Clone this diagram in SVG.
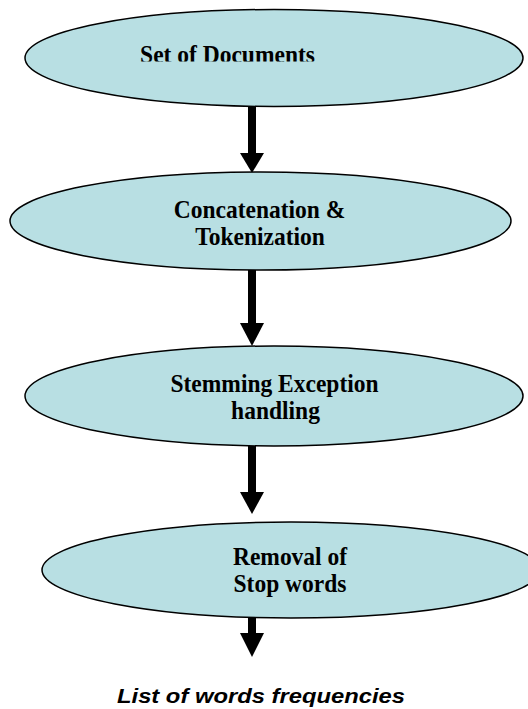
<svg xmlns="http://www.w3.org/2000/svg" width="528" height="709" viewBox="0 0 528 709">
<style>
.node{fill:#B8DFE3;stroke:#000;stroke-width:1.5}
.lbl{font-family:"Liberation Serif","Times New Roman",serif;font-weight:bold;font-size:23.5px;fill:#000;text-anchor:middle}
.out{font-family:"Liberation Sans",Arial,sans-serif;font-weight:bold;font-style:italic;font-size:20px;fill:#000}
.shaft{stroke:#000;stroke-width:8;fill:none}
.head{fill:#000}
</style>
<defs>
<clipPath id="clip1"><rect x="-200" y="-30" width="400" height="28.5"/></clipPath>
</defs>
<rect width="528" height="709" fill="#fff"/>
<g id="connectors">
<line class="shaft" x1="252" y1="107" x2="252" y2="154"/>
<polygon class="head" points="240,153 264,153 252,173"/>
<line class="shaft" x1="252" y1="270" x2="252" y2="324"/>
<polygon class="head" points="240,323 264,323 252,346"/>
<line class="shaft" x1="252" y1="446" x2="252" y2="493"/>
<polygon class="head" points="240,492 264,492 252,514"/>
<line class="shaft" x1="252" y1="618" x2="252" y2="634"/>
<polygon class="head" points="240,633 264,633 252,657"/>
</g>
<g id="n1">
<ellipse class="node" cx="274" cy="58" rx="249" ry="48.5"/>
<g transform="translate(227.5,63) scale(1,1.03)"><text class="lbl" x="0" y="0" clip-path="url(#clip1)">Set of Documents</text></g>
</g>
<g id="n2">
<ellipse class="node" cx="260.5" cy="221" rx="250.5" ry="49"/>
<text class="lbl" transform="translate(259.5,218) scale(1,1.03)">Concatenation &amp;</text>
<text class="lbl" transform="translate(260,245) scale(1,1.03)">Tokenization</text>
</g>
<g id="n3">
<ellipse class="node" cx="274" cy="396" rx="249" ry="50"/>
<text class="lbl" transform="translate(274.5,392) scale(1,1.03)">Stemming Exception</text>
<text class="lbl" transform="translate(275.5,419) scale(1,1.03)">handling</text>
</g>
<g id="n4">
<ellipse class="node" cx="291" cy="570" rx="249" ry="48"/>
<text class="lbl" transform="translate(290,565) scale(1,1.03)">Removal of</text>
<text class="lbl" transform="translate(290,592) scale(1,1.03)">Stop words</text>
</g>
<g id="out">
<text class="out" x="117" y="703" textLength="288" lengthAdjust="spacingAndGlyphs">List of words frequencies</text>
</g>
</svg>
